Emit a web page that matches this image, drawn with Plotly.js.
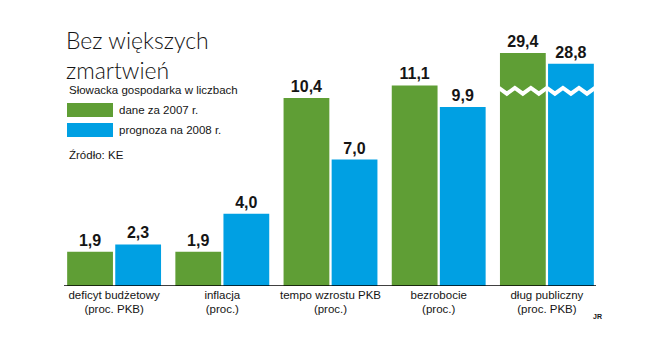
<!DOCTYPE html>
<html>
<head>
<meta charset="utf-8">
<script src="https://cdn.plot.ly/plotly-3.0.1.min.js"></script>
<style>html,body{margin:0;padding:0;background:#fff;}#chart{width:665px;height:355px;}</style>
</head>
<body>
<div id="chart"></div>
<script>
// ---- data ----
const categories = ['deficyt budżetowy<br>(proc. PKB)', 'inflacja<br>(proc.)', 'tempo wzrostu PKB<br>(proc.)', 'bezrobocie<br>(proc.)', 'dług publiczny<br>(proc. PKB)'];
const values2007 = [1.9, 1.9, 10.4, 11.1, 29.4];
const values2008 = [2.3, 4.0, 7.0, 9.9, 28.8];
const seriesNames = ['dane za 2007 r.', 'prognoza na 2008 r.'];

// ---- broken-axis settings (display only) ----
const BREAK_ABOVE = 20;   // values above this are drawn with a cut
const BREAK_CUT = 16.5;   // amount removed from the drawn bar
const BREAK_LEVEL = 10.8; // height of the zigzag mark (drawn units)

// ---- style ----
const GREEN = '#5f9e35', BLUE = '#00a0e3', INK = '#151515';
const SANS = "'Liberation Sans', Arial, sans-serif";
const W = 665, H = 355, M = {l: 60, r: 64, t: 33, b: 69};
const PW = W - M.l - M.r, PH = H - M.t - M.b;
const BARGAP = 0.111, GROUPGAP = 0.048;
const px = x => (x - M.l) / PW;
const py = y => (M.t + PH - y) / PH;

const idx = categories.map((_, i) => i);
const shown = v => v > BREAK_ABOVE ? v - BREAK_CUT : v;
const fmt = v => v.toFixed(1).replace('.', ',');

function barTrace(vals, name, color) {
  return {
    type: 'bar', x: idx, y: vals.map(shown), name: name,
    text: vals.map(fmt), textposition: 'outside', cliponaxis: false,
    textfont: {family: SANS, size: 16, color: INK, weight: 700},
    marker: {color: color, line: {width: 0}}, hoverinfo: 'skip'
  };
}

const traces = [barTrace(values2007, seriesNames[0], GREEN), barTrace(values2008, seriesNames[1], BLUE)];

// zigzag break marks for broken categories
idx.forEach(i => {
  if (values2007[i] > BREAK_ABOVE || values2008[i] > BREAK_ABOVE) {
    const half = (1 - BARGAP) / 2, n = 12, amp = 0.16;
    const zx = [], zy = [];
    for (let k = 0; k <= n; k++) {
      zx.push(i - half + k * (2 * half / n));
      zy.push(BREAK_LEVEL + (k % 2 === 0 ? amp : -amp));
    }
    traces.push({type: 'scatter', mode: 'lines', x: zx, y: zy, line: {color: '#fff', width: 4}, hoverinfo: 'skip', showlegend: false});
  }
});

const ann = (text, x, y, opts) => Object.assign({
  text: text, xref: 'paper', yref: 'paper', x: px(x), y: py(y), xanchor: 'left', yanchor: 'middle',
  showarrow: false, font: {family: SANS, size: 11.5, color: INK}
}, opts || {});

const layout = {
  width: W, height: H, margin: M,
  paper_bgcolor: '#fff', plot_bgcolor: '#fff',
  showlegend: false,
  barmode: 'group', bargap: BARGAP, bargroupgap: GROUPGAP,
  title: {
    text: 'Bez większych<br>zmartwień', xref: 'container', yref: 'container',
    x: 66 / W, xanchor: 'left', y: 1 - 49 / H, yanchor: 'top',
    font: {family: 'Lato, "Open Sans", sans-serif', size: 23, weight: 300, color: INK}
  },
  xaxis: {
    range: [-0.5, 4.5], tickvals: idx, ticktext: categories,
    showgrid: false, zeroline: false, showline: false, ticks: '',
    tickfont: {family: SANS, size: 11.5, color: INK}, fixedrange: true
  },
  yaxis: {range: [0, 14], visible: false, fixedrange: true},
  shapes: [
    {type: 'line', xref: 'paper', yref: 'y', x0: px(64), x1: px(596), y0: 0, y1: 0, line: {color: '#000', width: 1.5}, layer: 'above'},
    {type: 'rect', xref: 'paper', yref: 'paper', x0: px(67), x1: px(113), y0: py(103), y1: py(117), fillcolor: GREEN, line: {width: 0}},
    {type: 'rect', xref: 'paper', yref: 'paper', x0: px(67), x1: px(113), y0: py(123), y1: py(137), fillcolor: BLUE, line: {width: 0}}
  ],
  annotations: [
    ann('Słowacka gospodarka w liczbach', 67, 90),
    ann(seriesNames[0], 117, 110),
    ann(seriesNames[1], 117, 130),
    ann('Źródło: KE', 67, 155),
    ann('JR', 591, 316, {font: {family: SANS, size: 7, color: INK, weight: 700}})
  ]
};

Plotly.newPlot('chart', traces, layout, {staticPlot: true, displayModeBar: false});
</script>
</body>
</html>
